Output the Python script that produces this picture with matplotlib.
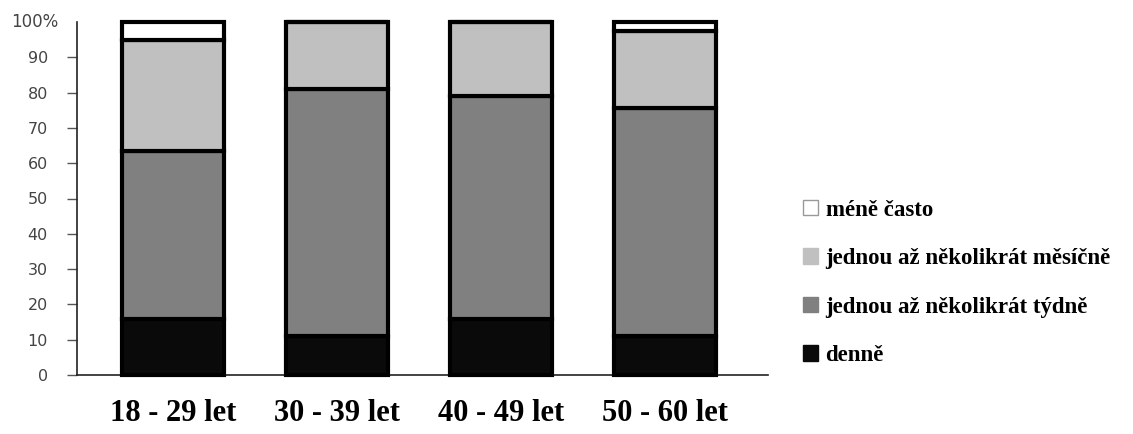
import matplotlib.pyplot as plt
from matplotlib.patches import Patch

# age groups and shares (%) of each frequency answer
groups = ["18 - 29 let", "30 - 39 let", "40 - 49 let", "50 - 60 let"]
denne = [16, 11, 16, 11]
tydne = [47.5, 70, 63, 64.5]
mesicne = [31.5, 19, 21, 22]
mene_casto = [5, 0, 0, 2.5]

labels = ["denně", "jednou až několikrát týdně",
          "jednou až několikrát měsíčně", "méně často"]
colors = ["#0a0a0a", "#808080", "#c0c0c0", "#ffffff"]
yticks = [0, 10, 20, 30, 40, 50, 60, 70, 80, 90]

W, H = 1133, 434
fig = plt.figure(figsize=(W / 100, H / 100), dpi=100)
ax = fig.add_axes([77 / W, 1 - 375 / H, (768 - 77) / W, (375 - 22) / H])

x = list(range(len(groups)))
bottom = [0] * len(groups)
for vals, col in zip([denne, tydne, mesicne, mene_casto], colors):
    ax.bar(x, vals, width=0.62, bottom=bottom, color=col,
           edgecolor="black", linewidth=3, zorder=3, clip_on=False)
    bottom = [b + v for b, v in zip(bottom, vals)]

ax.set_xlim(-0.585, 3.628)
ax.set_ylim(0, 100)

for side in ["top", "right"]:
    ax.spines[side].set_visible(False)
ax.spines["left"].set_linewidth(1.2)
ax.spines["bottom"].set_linewidth(1.2)
ax.spines["left"].set_color("#222222")
ax.spines["bottom"].set_color("#222222")

ax.set_yticks(yticks)
ax.set_yticklabels([str(t) for t in yticks])
ax.tick_params(axis="y", direction="out", length=7, width=1, color="#555555",
               pad=14, labelsize=11.5, labelcolor="#444444")
ax.text(-0.095, 100, "100%", transform=ax.get_yaxis_transform(),
        ha="left", va="center", fontsize=12, color="#444444")

ax.set_xticks(x)
ax.set_xticklabels(groups, fontfamily="Liberation Serif", fontweight="bold",
                   fontsize=22)
ax.tick_params(axis="x", length=0, pad=17)

handles = [Patch(facecolor=c, edgecolor=("#999999" if c == "#ffffff" else c),
                 linewidth=1) for c in colors]
leg = fig.legend(handles[::-1], labels[::-1], loc="upper left",
                 bbox_to_anchor=(782 / W, 1 - 179 / H), frameon=False,
                 handlelength=0.65, handleheight=0.65, handletextpad=0.35,
                 labelspacing=1.2,
                 prop={"family": "Liberation Serif", "weight": "bold",
                       "size": 16.5})

fig.savefig("out.png", dpi=100, facecolor="white")
